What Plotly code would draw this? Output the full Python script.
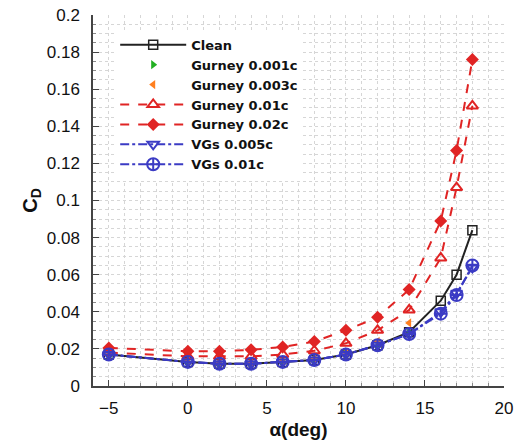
import plotly.graph_objects as go

alpha = [-5, 0, 2, 4, 6, 8, 10, 12, 14, 16, 17, 18]
alpha_g = [-5, 0, 2, 4, 6, 8, 10, 12, 14]

cd_clean = [0.017, 0.013, 0.012, 0.012, 0.013, 0.014, 0.017, 0.022, 0.029, 0.046, 0.060, 0.084]
cd_g001 = [0.016, 0.013, 0.012, 0.012, 0.013, 0.014, 0.017, 0.022, 0.029]
cd_g003 = [0.017, 0.014, 0.013, 0.013, 0.014, 0.015, 0.018, 0.024, 0.034]
cd_g01 = [0.018, 0.016, 0.016, 0.016, 0.017, 0.019, 0.023, 0.030, 0.041, 0.069, 0.107, 0.151]
cd_g02 = [0.0205, 0.0187, 0.0187, 0.0195, 0.021, 0.024, 0.030, 0.037, 0.052, 0.089, 0.127, 0.176]
cd_vg005 = [0.017, 0.013, 0.012, 0.012, 0.013, 0.014, 0.017, 0.022, 0.028, 0.040, 0.050, 0.064]
cd_vg01 = [0.017, 0.013, 0.012, 0.012, 0.013, 0.014, 0.017, 0.022, 0.028, 0.039, 0.049, 0.065]

yticks = [0, 0.02, 0.04, 0.06, 0.08, 0.1, 0.12, 0.14, 0.16, 0.18, 0.2]
yticklabels = ["0", "0.02", "0.04", "0.06", "0.08", "0.1", "0.12", "0.14", "0.16", "0.18", "0.2"]
xticks = [-5, 0, 5, 10, 15, 20]

red = "#e02424"
blue = "#3b3bc4"

fig = go.Figure()
fig.add_trace(go.Scatter(x=alpha, y=cd_clean, name="Clean", mode="lines+markers",
                         line=dict(color="#222222", width=2),
                         marker=dict(symbol="square-open", size=9, color="#222222", line=dict(width=1.5))))
fig.add_trace(go.Scatter(x=alpha_g, y=cd_g001, name="Gurney 0.001c", mode="markers",
                         marker=dict(symbol="triangle-right", size=8, color="#22b022")))
fig.add_trace(go.Scatter(x=alpha_g, y=cd_g003, name="Gurney 0.003c", mode="markers",
                         marker=dict(symbol="triangle-left", size=8, color="#ff7f1e")))
fig.add_trace(go.Scatter(x=alpha, y=cd_g01, name="Gurney 0.01c", mode="lines+markers",
                         line=dict(color=red, width=2, dash="dash"),
                         marker=dict(symbol="triangle-up-open", size=10, color=red, line=dict(width=2))))
fig.add_trace(go.Scatter(x=alpha, y=cd_g02, name="Gurney 0.02c", mode="lines+markers",
                         line=dict(color=red, width=2, dash="dash"),
                         marker=dict(symbol="diamond", size=10, color=red)))
fig.add_trace(go.Scatter(x=alpha, y=cd_vg005, name="VGs 0.005c", mode="lines+markers",
                         line=dict(color=blue, width=2, dash="dashdot"),
                         marker=dict(symbol="triangle-down-open", size=10, color=blue, line=dict(width=2))))
fig.add_trace(go.Scatter(x=alpha, y=cd_vg01, name="VGs 0.01c", mode="lines+markers",
                         line=dict(color=blue, width=2, dash="dashdot"),
                         marker=dict(symbol="circle-cross-open", size=12, color=blue, line=dict(width=2))))

grid = "#d6d6d6"
fig.update_layout(
    width=518, height=446,
    margin=dict(l=93, r=14, t=15, b=60, autoexpand=False),
    paper_bgcolor="white", plot_bgcolor="white",
    font=dict(family="Liberation Sans, Arial, sans-serif", color="#111111"),
    showlegend=True,
    legend=dict(x=0.054, y=0.96, xanchor="left", yanchor="top", bgcolor="white",
                font=dict(size=13, family="DejaVu Sans, sans-serif", color="#111111", weight="bold"),
                itemwidth=66, tracegroupgap=0, traceorder="normal"),
    xaxis=dict(range=[-6, 20], tickvals=xticks, ticks="inside", ticklen=6, tickcolor="#444",
               showline=True, linecolor="#444", linewidth=1.5, automargin=False,
               ticklabelstandoff=6, ticklabeloverflow="allow",
               showgrid=True, gridcolor=grid, griddash="dot", gridwidth=1, zeroline=False,
               tickfont=dict(size=17),
               minor=dict(dtick=1, showgrid=True, gridcolor=grid, griddash="dot", ticks="inside", ticklen=3, tickcolor="#888"),
               title=dict(text="<b>α(deg)</b>", font=dict(size=19), standoff=6)),
    yaxis=dict(range=[0, 0.2], tickvals=yticks, ticktext=yticklabels, ticks="inside", ticklen=6, tickcolor="#444",
               showline=True, linecolor="#444", linewidth=1.5, automargin=False,
               ticklabelstandoff=8, ticklabeloverflow="allow",
               showgrid=True, gridcolor=grid, griddash="dot", gridwidth=1, zeroline=False,
               tickfont=dict(size=17),
               minor=dict(dtick=0.005, showgrid=True, gridcolor=grid, griddash="dot", ticks="inside", ticklen=3, tickcolor="#888"),
               title=dict(text="<b>C<sub>D</sub></b>", font=dict(size=20), standoff=4)),
)
fig.write_html("out.html", config={"displayModeBar": False},
               post_script="document.body.style.margin='0';")
